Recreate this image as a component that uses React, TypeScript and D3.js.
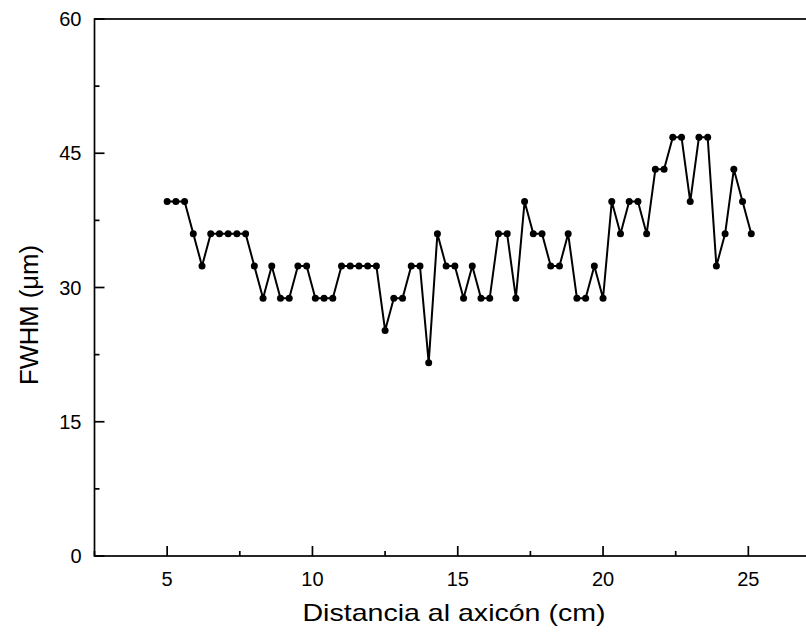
import React from "react";
import * as d3 from "d3";

// Distance from the axicon (cm) and measured FWHM (µm)
const distance: number[] = [
  5.0, 5.3, 5.6, 5.9, 6.2, 6.5, 6.8, 7.1, 7.4, 7.7,
  8.0, 8.3, 8.6, 8.9, 9.2, 9.5, 9.8, 10.1, 10.4, 10.7,
  11.0, 11.3, 11.6, 11.9, 12.2, 12.5, 12.8, 13.1, 13.4, 13.7,
  14.0, 14.3, 14.6, 14.9, 15.2, 15.5, 15.8, 16.1, 16.4, 16.7,
  17.0, 17.3, 17.6, 17.9, 18.2, 18.5, 18.8, 19.1, 19.4, 19.7,
  20.0, 20.3, 20.6, 20.9, 21.2, 21.5, 21.8, 22.1, 22.4, 22.7,
  23.0, 23.3, 23.6, 23.9, 24.2, 24.5, 24.8, 25.1,
];
const fwhm: number[] = [
  39.6, 39.6, 39.6, 36, 32.4, 36, 36, 36, 36, 36,
  32.4, 28.8, 32.4, 28.8, 28.8, 32.4, 32.4, 28.8, 28.8, 28.8,
  32.4, 32.4, 32.4, 32.4, 32.4, 25.2, 28.8, 28.8, 32.4, 32.4,
  21.6, 36, 32.4, 32.4, 28.8, 32.4, 28.8, 28.8, 36, 36,
  28.8, 39.6, 36, 36, 32.4, 32.4, 36, 28.8, 28.8, 32.4,
  28.8, 39.6, 36, 39.6, 39.6, 36, 43.2, 43.2, 46.8, 46.8,
  39.6, 46.8, 46.8, 32.4, 36, 43.2, 39.6, 36,
];

const xTicks: number[] = [5, 10, 15, 20, 25];
const xMinorTicks: number[] = [2.5, 7.5, 12.5, 17.5, 22.5, 27.5];
const yTicks: number[] = [0, 15, 30, 45, 60];
const yMinorTicks: number[] = [7.5, 22.5, 37.5, 52.5];

const xLabel = "Distancia al axicón (cm)";
const yLabel = "FWHM (μm)";

const W = 806;
const H = 639;
const left = 94.5;
const top = 19;
const bottom = 556;

export default function App() {
  const x = d3.scaleLinear().domain([2.5, 27.5]).range([left, left + 25 * 29.06]);
  const y = d3.scaleLinear().domain([0, 60]).range([bottom, top]);
  const pts = distance.map((d, i) => [d, fwhm[i]] as [number, number]);
  const line = d3
    .line<[number, number]>()
    .x((d) => x(d[0]))
    .y((d) => y(d[1]));
  const right = x(27.5);
  const font = "'Liberation Sans', Arial, sans-serif";

  return (
    <svg
      width={W}
      height={H}
      viewBox={`0 0 ${W} ${H}`}
      style={{ position: "absolute", left: 0, top: 0, background: "#fff" }}
    >
      <rect x={0} y={0} width={W} height={H} fill="#fff" />
      {/* frame */}
      <rect
        x={left}
        y={top}
        width={right - left}
        height={bottom - top}
        fill="none"
        stroke="#000"
        strokeWidth={1.7}
      />
      {/* x ticks */}
      {xTicks.map((t) => (
        <g key={`xt${t}`}>
          <line x1={x(t)} x2={x(t)} y1={bottom} y2={bottom - 10} stroke="#000" strokeWidth={1.7} />
          <text
            x={x(t)}
            y={bottom + 30}
            textAnchor="middle"
            fontFamily={font}
            fontSize={20}
            fill="#000"
          >
            {t}
          </text>
        </g>
      ))}
      {xMinorTicks.map((t) => (
        <line key={`xm${t}`} x1={x(t)} x2={x(t)} y1={bottom} y2={bottom - 5} stroke="#000" strokeWidth={1.7} />
      ))}
      {/* y ticks */}
      {yTicks.map((t) => (
        <g key={`yt${t}`}>
          <line x1={left} x2={left + 10} y1={y(t)} y2={y(t)} stroke="#000" strokeWidth={1.7} />
          <text
            x={left - 13}
            y={y(t) + 7}
            textAnchor="end"
            fontFamily={font}
            fontSize={20}
            fill="#000"
          >
            {t}
          </text>
        </g>
      ))}
      {yMinorTicks.map((t) => (
        <line key={`ym${t}`} x1={left} x2={left + 5} y1={y(t)} y2={y(t)} stroke="#000" strokeWidth={1.7} />
      ))}
      {/* series */}
      <path d={line(pts) ?? ""} fill="none" stroke="#000" strokeWidth={2} strokeLinejoin="round" />
      {pts.map((p, i) => (
        <circle key={i} cx={x(p[0])} cy={y(p[1])} r={3.5} fill="#000" />
      ))}
      {/* axis titles */}
      <text
        x={454}
        y={621}
        textAnchor="middle"
        fontFamily={font}
        fontSize={24}
        textLength={303}
        lengthAdjust="spacingAndGlyphs"
        fill="#000"
      >
        {xLabel}
      </text>
      <text
        transform={`translate(38, 315) rotate(-90)`}
        textAnchor="middle"
        fontFamily={font}
        fontSize={25}
        textLength={140}
        lengthAdjust="spacingAndGlyphs"
        fill="#000"
      >
        {yLabel}
      </text>
    </svg>
  );
}
